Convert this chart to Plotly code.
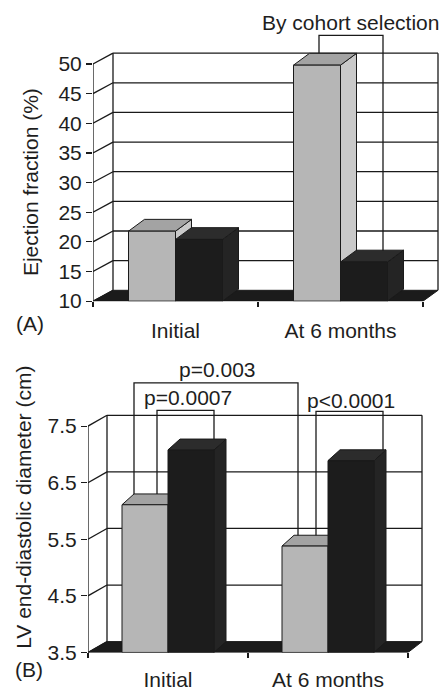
import plotly.graph_objects as go

# ---------------- data ----------------
categories = ["Initial", "At 6 months"]
ef_gray = [21.8, 49.8]
ef_black = [20.4, 16.6]
lvedd_gray = [6.11, 5.38]
lvedd_black = [7.08, 6.89]
ef_ticks = [10, 15, 20, 25, 30, 35, 40, 45, 50]
lvedd_ticks = [3.5, 4.5, 5.5, 6.5, 7.5]
lvedd_ticktext = ["3.5", "4.5", "5.5", "6.5", "7.5"]
ef_title = "Ejection fraction (%)"
lvedd_title = "LV end-diastolic diameter (cm)"
panel_labels = ["(A)", "(B)"]
bracket_texts_a = ["By cohort selection"]
bracket_texts_b = ["p=0.003", "p=0.0007", "p<0.0001"]

W, H = 447, 691
FONT = "Liberation Sans, Arial, sans-serif"
TXT = "#1e1e1e"
LINE = "#1a1a1a"
GRAY = dict(front="#b6b6b6", top="#a3a3a3", side="#c9c9c9")
BLACK = dict(front="#1c1c1c", top="#2c2c2c", side="#242424")

panels = [
    dict(xa="x", ya="y", px_left=93, px_per_x=165.0, py_bottom=306, py_top=10,
         px_per_y=6.025, ymin=10, ymax=50, wall_dxl=20, wall_dxr=15, wall_dy=-11,
         bar_dx=16, bar_dy=-12, bar_w=47, ticklen=11,
         gray=ef_gray, black=ef_black, ticks=ef_ticks,
         ticktext=[str(t) for t in ef_ticks]),
    dict(xa="x2", ya="y2", px_left=88, px_per_x=160.0, py_bottom=663, py_top=360,
         px_per_y=57.5, ymin=3.5, ymax=7.5, wall_dxl=19, wall_dxr=14, wall_dy=-11,
         bar_dx=12, bar_dy=-11, bar_w=46, ticklen=8,
         gray=lvedd_gray, black=lvedd_black, ticks=lvedd_ticks,
         ticktext=lvedd_ticktext),
]

fig = go.Figure()
shapes = []
annotations = []


def line_shape(p, x0, y0, x1, y1, width=1.3):
    shapes.append(dict(type="line", xref=p["xa"], yref=p["ya"], x0=x0, y0=y0,
                       x1=x1, y1=y1, layer="below",
                       line=dict(color=LINE, width=width)))


for p in panels:
    fx = lambda px, p=p: px / p["px_per_x"]          # px offset -> x data
    fy = lambda py, p=p: -py / p["px_per_y"]         # screen px offset -> y data
    ymin, ymax = p["ymin"], p["ymax"]
    xl = fx(p["wall_dxl"])
    xr = 2 + fx(p["wall_dxr"])
    dy = fy(p["wall_dy"])
    # back wall gridlines and diagonals
    for t in p["ticks"]:
        if t > ymin:
            line_shape(p, xl, t + dy, xr, t + dy)
        line_shape(p, 0, t, xl, t + dy)
    line_shape(p, xl, ymin + dy, xl, ymax + dy)
    line_shape(p, xr, ymin + dy, xr, ymax + dy)
    line_shape(p, 0, ymin, 0, ymax)
    # floor
    shapes.append(dict(type="path", xref=p["xa"], yref=p["ya"], layer="below",
                       path=f"M0,{ymin} L2,{ymin} L{xr},{ymin+dy} L{xl},{ymin+dy} Z",
                       fillcolor="#1b1b1b", line=dict(color=LINE, width=1)))

# ---------------- brackets (annotation geometry in pixel space) ----------------
def px2x(p, px):
    return (px - p["px_left"]) / p["px_per_x"]


def py2y(p, py):
    return p["ymin"] + (p["py_bottom"] - py) / p["px_per_y"]


def top_center_y(p, v):
    return v - p["bar_dy"] / 2.0 / p["px_per_y"]


pa, pb = panels
bracket_specs = [
    (pa, bracket_texts_a[0], 319, 383, 36, 350, 23, pa["gray"][1], pa["black"][1]),
    (pb, bracket_texts_b[0], 134, 298, 389, 217, 375, pb["gray"][0], pb["gray"][1]),
    (pb, bracket_texts_b[1], 157, 214, 417, 188, 404, pb["gray"][0], pb["black"][0]),
    (pb, bracket_texts_b[2], 316, 383, 418, 351, 407, pb["gray"][1], pb["black"][1]),
]
for p, text, x0px, x1px, ypx, txpx, typx, vleft, vright in bracket_specs:
    x0, x1, yl = px2x(p, x0px), px2x(p, x1px), py2y(p, ypx)
    shapes.append(dict(type="path", xref=p["xa"], yref=p["ya"], layer="below",
                       path=(f"M{x0},{top_center_y(p, vleft)} L{x0},{yl} "
                             f"L{x1},{yl} L{x1},{top_center_y(p, vright)}"),
                       line=dict(color=LINE, width=1.3)))
    annotations.append(dict(xref=p["xa"], yref=p["ya"], x=px2x(p, txpx),
                            y=py2y(p, typx), text=text, showarrow=False,
                            font=dict(size=21, color=TXT, family=FONT),
                            xanchor="center", yanchor="middle"))

# ---------------- 3D bars ----------------
for p in panels:
    w = p["bar_w"] / p["px_per_x"]
    bdx = p["bar_dx"] / p["px_per_x"]
    bdy = -p["bar_dy"] / p["px_per_y"]
    ymin = p["ymin"]
    for g in range(len(categories)):
        for s, (vals, col) in enumerate([(p["gray"], GRAY), (p["black"], BLACK)]):
            v = vals[g]
            x0 = g + 0.5 - w + s * w
            x1 = x0 + w
            faces = [
                ([x1, x1, x1 + bdx, x1 + bdx, x1], [ymin, v, v + bdy, ymin + bdy, ymin], col["side"]),
                ([x0, x1, x1 + bdx, x0 + bdx, x0], [v, v, v + bdy, v + bdy, v], col["top"]),
                ([x0, x1, x1, x0, x0], [ymin, ymin, v, v, ymin], col["front"]),
            ]
            for fxs, fys, c in faces:
                fig.add_trace(go.Scatter(x=fxs, y=fys, xaxis=p["xa"], yaxis=p["ya"],
                                         mode="lines", fill="toself", fillcolor=c,
                                         line=dict(color=LINE, width=1),
                                         hoverinfo="skip", showlegend=False))

# ---------------- axes ----------------
layout_axes = {}
for i, p in enumerate(panels):
    sfx = "" if i == 0 else "2"
    xr_px = W - p["px_left"]
    layout_axes["xaxis" + sfx] = dict(
        domain=[p["px_left"] / W, 1.0], range=[0, xr_px / p["px_per_x"]],
        anchor="y" + sfx, showgrid=False, zeroline=False, showline=False,
        tickvals=[0.5, 1.5], ticktext=categories, ticks="outside",
        ticklen=p["ticklen"], tickcolor="rgba(0,0,0,0)",
        tickfont=dict(size=21, color=TXT, family=FONT),
        minor=dict(tickvals=[0, 1, 2], ticks="outside", ticklen=5,
                   tickcolor=LINE, tickwidth=1.2, showgrid=False),
    )
    ytop = p["ymin"] + (p["py_bottom"] - p["py_top"]) / p["px_per_y"]
    layout_axes["yaxis" + sfx] = dict(
        domain=[1 - p["py_bottom"] / H, 1 - p["py_top"] / H],
        range=[p["ymin"], ytop], anchor="x" + sfx,
        showgrid=False, zeroline=False, showline=False,
        tickvals=p["ticks"], ticktext=p["ticktext"], ticks="outside",
        ticklen=6, tickwidth=1.2, tickcolor=LINE,
        tickfont=dict(size=21, color=TXT, family=FONT),
    )

# titles and panel labels
for text, xpx, ypx in [(ef_title, 30, 185), (lvedd_title, 24, 516)]:
    annotations.append(dict(xref="paper", yref="paper", x=xpx / W, y=1 - ypx / H,
                            text=text, textangle=-90, showarrow=False,
                            font=dict(size=21, color=TXT, family=FONT),
                            xanchor="center", yanchor="middle"))
for text, xpx, ypx in [(panel_labels[0], 30, 329), (panel_labels[1], 29, 680)]:
    annotations.append(dict(xref="paper", yref="paper", x=xpx / W, y=1 - ypx / H,
                            text=text, showarrow=False,
                            font=dict(size=21, color=TXT, family=FONT),
                            xanchor="center", yanchor="middle"))

fig.update_layout(
    width=W, height=H, margin=dict(l=0, r=0, t=0, b=0),
    paper_bgcolor="white", plot_bgcolor="white",
    shapes=shapes, annotations=annotations, showlegend=False,
    hovermode=False,
    **layout_axes,
)

fig.write_html(
    "out.html",
    config={"displayModeBar": False, "staticPlot": True},
    post_script="document.body.style.margin='0';document.body.style.overflow='hidden';",
)
